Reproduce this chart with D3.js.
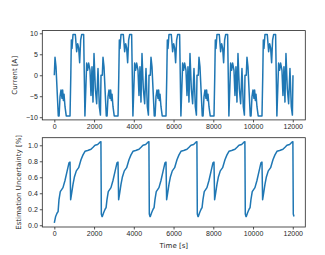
<!DOCTYPE html>
<html>
<head>
<meta charset="utf-8">
<script src="https://cdn.jsdelivr.net/npm/d3@7"></script>
<style>
  body { margin: 0; background: #fff; }
  svg { display: block; font-family: "DejaVu Sans", sans-serif; }
  .tick text { font-size: 7px; fill: #262626; }
  .tick line { stroke: #262626; stroke-width: 0.8; }
  .frame { fill: none; stroke: #262626; stroke-width: 0.8; }
  .series { fill: none; stroke: #1f77b4; stroke-width: 1.5; stroke-linejoin: round; }
  .label { font-size: 7px; fill: #262626; text-anchor: middle; }
</style>
</head>
<body>
<svg></svg>
<script>
// one drive cycle, repeated over the run
var cyclePeriod = 2415,
    cycleCount = 5,
    timeEnd = 12060;

// current [A] within one cycle
var currentTime  = [0, 35, 85, 200, 240, 287, 337, 387, 420, 455, 488, 538, 600, 790, 830, 857, 890, 940, 1057, 1124, 1175, 1225, 1275, 1325, 1376, 1476, 1540, 1628, 1678, 1728, 1795, 1846, 1896, 1946, 1997, 2064, 2131, 2198, 2265, 2320, 2350, 2415];
var currentValue = [0, 4.3, 2, -9.7, -9.7, -5.1, -3.5, -5.5, -3.5, -6, -4.5, -7.5, -9.7, -9.7, 0, 8.4, 6.4, 9.7, 9.7, 5.6, 7.5, 6.5, 3, 8.4, 9.7, 9.7, -9.7, 2.9, 1.2, 2.9, 1.2, -4.8, 2, -6.4, 5.2, -3.2, -6.8, 1.6, -7.5, -9.5, 0, 0];

// estimation uncertainty: start of first cycle, start of later cycles, rest of cycle
var uncFirstTime  = [0, 67, 134, 190];
var uncFirstValue = [0.03, 0.11, 0.15, 0.17];
var uncRepeatTime  = [0, 70, 140, 190];
var uncRepeatValue = [0.11, 0.16, 0.2, 0.22];
var uncBodyTime  = [235, 300, 436, 537, 638, 738, 790, 822, 860, 940, 1007, 1107, 1225, 1342, 1443, 1544, 1678, 1846, 1950, 2047, 2181, 2282, 2345, 2366, 2400];
var uncBodyValue = [0.32, 0.42, 0.47, 0.56, 0.67, 0.78, 0.79, 0.32, 0.38, 0.51, 0.6, 0.68, 0.72, 0.82, 0.88, 0.925, 0.935, 0.95, 0.975, 1.0, 1.01, 1.035, 1.045, 0.14, 0.11];

var xTicks = [0, 2000, 4000, 6000, 8000, 10000, 12000];
var currentTicks = [-10, -5, 0, 5, 10];
var uncTicks = [0.0, 0.2, 0.4, 0.6, 0.8, 1.0];

var width = 325,
    height = 255,
    left = 42.3,
    right = 305.3;

var svg = d3.select("svg")
  .attr("width", width)
  .attr("height", height);

var x = d3.scaleLinear()
  .domain([-605, 12630])
  .range([left, right]);

function buildCurrent() {
  var pts = [];
  for (var c = 0; c < cycleCount; c++) {
    currentTime.forEach(function(t, i) {
      var tt = t + c * cyclePeriod;
      if (tt <= timeEnd) pts.push([tt, currentValue[i]]);
    });
  }
  return pts;
}

function buildUncertainty() {
  var pts = [];
  for (var c = 0; c < cycleCount; c++) {
    var headT = c === 0 ? uncFirstTime : uncRepeatTime,
        headV = c === 0 ? uncFirstValue : uncRepeatValue;
    var ts = headT.concat(uncBodyTime),
        vs = headV.concat(uncBodyValue);
    ts.forEach(function(t, i) {
      var tt = t + c * cyclePeriod;
      if (tt <= timeEnd) pts.push([tt, vs[i]]);
    });
  }
  return pts;
}

function drawPanel(top, bottom, yDomain, yTicks, yFormat, data, yLabel, yLabelX) {
  var y = d3.scaleLinear()
    .domain(yDomain)
    .range([bottom, top]);

  var g = svg.append("g");

  g.append("g")
    .attr("transform", "translate(" + left + ",0)")
    .call(d3.axisLeft(y).tickValues(yTicks).tickFormat(yFormat).tickSize(2.5).tickPadding(2))
    .call(function(a) { a.select(".domain").remove(); });

  g.append("g")
    .attr("transform", "translate(0," + bottom + ")")
    .call(d3.axisBottom(x).tickValues(xTicks).tickFormat(d3.format("d")).tickSize(2.5).tickPadding(2))
    .call(function(a) { a.select(".domain").remove(); });

  g.selectAll(".tick text").attr("font-family", null).attr("font-size", null);

  g.append("path")
    .datum(data)
    .attr("class", "series")
    .attr("d", d3.line()
      .x(function(d) { return x(d[0]); })
      .y(function(d) { return y(d[1]); }));

  g.append("rect")
    .attr("class", "frame")
    .attr("x", left)
    .attr("y", top)
    .attr("width", right - left)
    .attr("height", bottom - top);

  g.append("text")
    .attr("class", "label")
    .attr("transform", "translate(" + yLabelX + "," + ((top + bottom) / 2) + ") rotate(-90)")
    .attr("dy", "0.35em")
    .text(yLabel);
}

var minus = function(d) { return d3.format("d")(d).replace("-", "\u2212"); };

drawPanel(30.6, 119.9, [-10.64, 10.64], currentTicks, minus, buildCurrent(), "Current [A]", 15);
drawPanel(137.7, 227, [-0.022, 1.095], uncTicks, d3.format(".1f"), buildUncertainty(), "Estimation Uncertainty [%]", 19);

svg.append("text")
  .attr("class", "label")
  .attr("x", (left + right) / 2)
  .attr("y", 247.8)
  .text("Time [s]");
</script>
</body>
</html>
